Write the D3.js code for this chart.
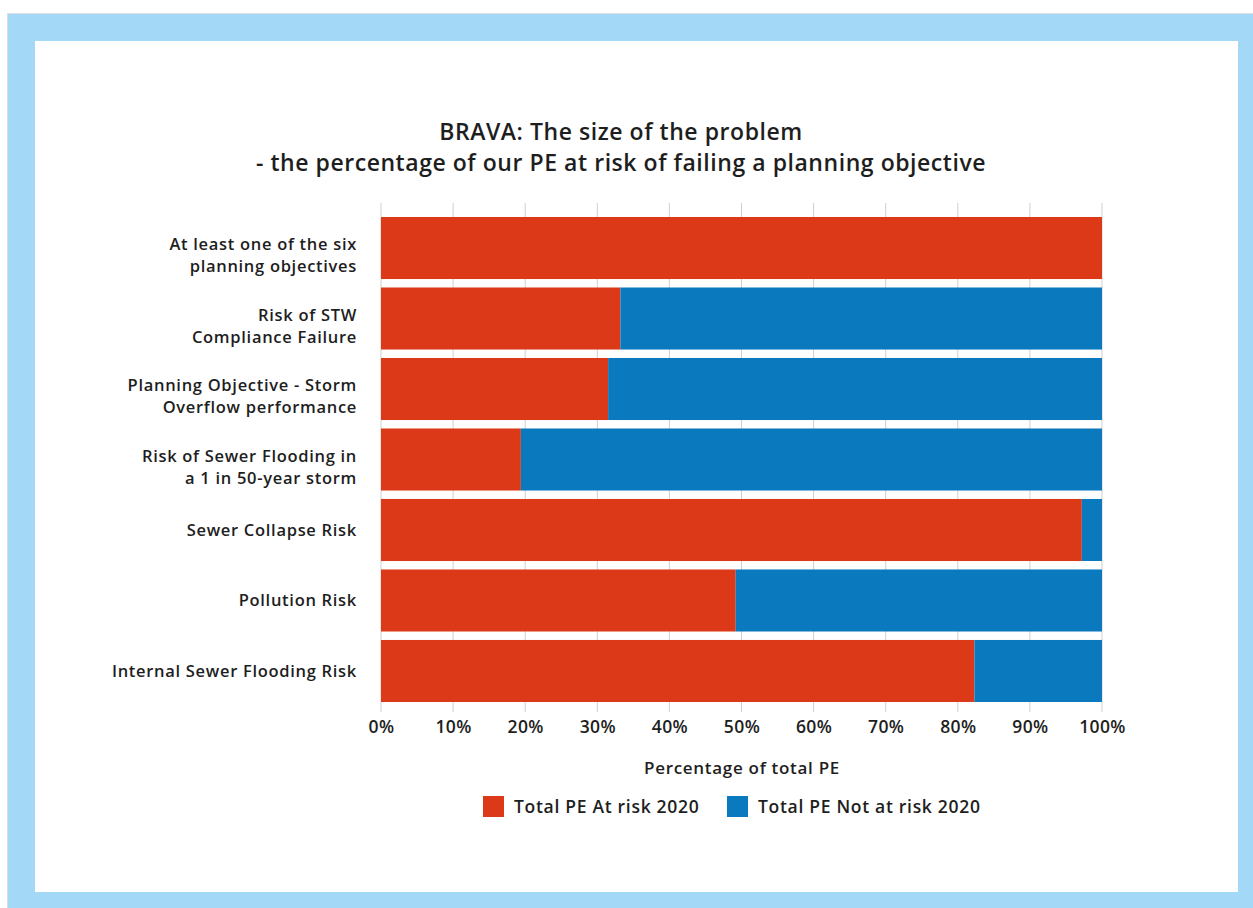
<!DOCTYPE html>
<html>
<head>
<meta charset="utf-8">
<script src="https://cdn.jsdelivr.net/npm/d3@7"></script>
<style>
  html, body { margin: 0; padding: 0; background: #ffffff; }
  svg text { font-family: "Open Sans", "Noto Sans", sans-serif; fill: #1e1e1e; }
</style>
</head>
<body>
<div id="visualization"></div>
<script>
'use strict';

// categories, top to bottom (label lines)
const categories = [
    ['At least one of the six', 'planning objectives'],
    ['Risk of STW', 'Compliance Failure'],
    ['Planning Objective - Storm', 'Overflow performance'],
    ['Risk of Sewer Flooding in', 'a 1 in 50-year storm'],
    ['Sewer Collapse Risk'],
    ['Pollution Risk'],
    ['Internal Sewer Flooding Risk']
];

// percentage of total PE at risk 2020
const atRisk = [100, 33.2, 31.5, 19.4, 97.2, 49.2, 82.3];
// percentage of total PE not at risk 2020
const notAtRisk = [0, 66.8, 68.5, 80.6, 2.8, 50.8, 17.7];

const seriesNames = ['Total PE At risk 2020', 'Total PE Not at risk 2020'];
const tickValues = [0, 10, 20, 30, 40, 50, 60, 70, 80, 90, 100];

const titleLines = [
    'BRAVA: The size of the problem',
    '- the percentage of our PE at risk of failing a planning objective'
];
const axisTitle = 'Percentage of total PE';

const colours = ['#dc3919', '#0a79be'];

const width = 1253, height = 908;

const svg = d3.select('#visualization')
    .append('svg')
    .attr('width', width)
    .attr('height', height);

// frame
svg.append('rect').attr('x', 0).attr('y', 0).attr('width', width).attr('height', height).attr('fill', '#ffffff');
svg.append('rect').attr('x', 7).attr('y', 13).attr('width', width - 7).attr('height', height - 13).attr('fill', '#dcdcdc');
svg.append('rect').attr('x', 8).attr('y', 14).attr('width', width - 8).attr('height', height - 14).attr('fill', '#a3d9f6');
svg.append('rect').attr('x', 35).attr('y', 41).attr('width', 1203).attr('height', 851).attr('fill', '#ffffff');

// title
svg.selectAll('.title')
    .data(titleLines)
    .enter()
    .append('text')
    .attr('class', 'title')
    .attr('x', 621)
    .attr('y', (d, i) => 140 + i * 31)
    .attr('text-anchor', 'middle')
    .attr('font-size', '23px')
    .attr('font-weight', 600)
    .attr('letter-spacing', '0.55px')
    .text(d => d);

const x = d3.scaleLinear().domain([0, 100]).range([381, 1102]);
const y = d3.scaleBand()
    .domain(d3.range(categories.length))
    .range([217, 702])
    .paddingInner(0.12)
    .paddingOuter(0);

// gridlines
svg.append('g')
    .selectAll('line')
    .data(tickValues)
    .enter()
    .append('line')
    .attr('x1', d => x(d))
    .attr('x2', d => x(d))
    .attr('y1', 203)
    .attr('y2', 712)
    .attr('stroke', '#cfcfcf')
    .attr('stroke-width', 1);

// stacked bars
const rows = categories.map((c, i) => ({ i: i, values: [atRisk[i], notAtRisk[i]] }));
const stack = d3.stack().keys([0, 1]).value((d, k) => d.values[k]);
const layers = stack(rows);

svg.append('g')
    .selectAll('g')
    .data(layers)
    .enter()
    .append('g')
    .attr('fill', (d, k) => colours[k])
    .selectAll('rect')
    .data(d => d)
    .enter()
    .append('rect')
    .attr('x', d => x(d[0]))
    .attr('y', d => y(d.data.i))
    .attr('width', d => x(d[1]) - x(d[0]))
    .attr('height', y.bandwidth());

// category labels
const labels = svg.append('g')
    .selectAll('text')
    .data(categories)
    .enter()
    .append('text')
    .attr('text-anchor', 'end')
    .attr('font-size', '16.5px')
    .attr('font-weight', 600)
    .attr('letter-spacing', '0.7px')
    .attr('x', 357)
    .attr('y', (d, i) => y(i) + y.bandwidth() / 2 + (d.length > 1 ? 2 : 6));

labels.selectAll('tspan')
    .data(d => d)
    .enter()
    .append('tspan')
    .attr('x', 357)
    .attr('dy', (d, j) => j === 0 ? 0 : 22)
    .text(d => d);

// x axis
const axis = svg.append('g')
    .attr('transform', 'translate(0,712)')
    .call(d3.axisBottom(x).tickValues(tickValues).tickFormat(d => d + '%').tickSize(0).tickPadding(9));

axis.select('.domain').remove();
axis.selectAll('text')
    .attr('font-size', '17.5px')
    .attr('font-weight', 600)
    .attr('letter-spacing', '0.4px')
    .attr('fill', '#1e1e1e')
    .style('font-family', '"Open Sans", "Noto Sans", sans-serif');

svg.append('text')
    .attr('x', 742)
    .attr('y', 774)
    .attr('text-anchor', 'middle')
    .attr('font-size', '17px')
    .attr('font-weight', 600)
    .attr('letter-spacing', '0.7px')
    .text(axisTitle);

// legend
const legendX = [483, 727];
const legend = svg.append('g')
    .selectAll('g')
    .data(seriesNames)
    .enter()
    .append('g')
    .attr('transform', (d, i) => 'translate(' + legendX[i] + ',796)');

legend.append('rect')
    .attr('width', 21)
    .attr('height', 21)
    .attr('fill', (d, i) => colours[i]);

legend.append('text')
    .attr('x', 31)
    .attr('y', 17)
    .attr('font-size', '17.5px')
    .attr('font-weight', 600)
    .attr('letter-spacing', '0.7px')
    .text(d => d);
</script>
</body>
</html>
